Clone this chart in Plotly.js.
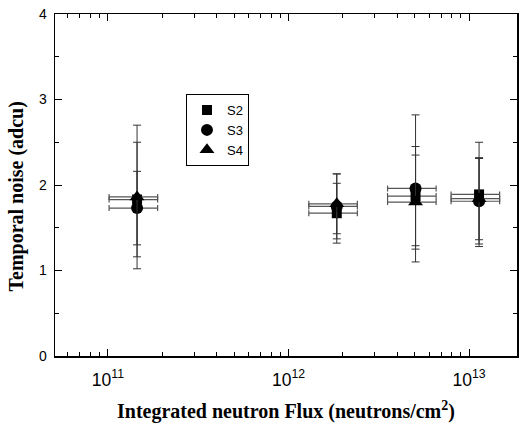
<!DOCTYPE html>
<html>
<head>
<meta charset="utf-8">
<script src="https://cdn.plot.ly/plotly-3.0.1.min.js"></script>
<style>html,body{margin:0;padding:0;background:#fff;}#chart{width:520px;height:428px;}</style>
</head>
<body>
<div id="chart"></div>
<script>
// Integrated neutron flux (neutrons/cm^2)
const flux = [1.45e11, 1.85e12, 5.05e12, 1.135e13];
const fluxErrPct = 30;
// Temporal noise (adcu) and its errors
const s2 = [1.83, 1.67, 1.87, 1.89];
const s2Err = [0.67, 0.35, 0.58, 0.61];
const s3 = [1.73, 1.75, 1.96, 1.81];
const s3Err = [0.43, 0.38, 0.86, 0.50];
const s4 = [1.86, 1.78, 1.80, 1.84];
const s4Err = [0.84, 0.35, 0.55, 0.48];
const names = ['S2', 'S3', 'S4'];
const symbols = ['square', 'circle', 'triangle-up'];
const sizes = [10, 12, 13];

const ys = [s2, s3, s4];
const errs = [s2Err, s3Err, s4Err];

const traces = names.map((n, i) => ({
  type: 'scatter', mode: 'markers', name: n,
  x: flux, y: ys[i],
  marker: {symbol: symbols[i], size: sizes[i], color: '#000'},
  error_y: {type: 'data', array: errs[i], visible: true, color: '#333', thickness: 1, width: 4},
  error_x: {type: 'percent', value: fluxErrPct, visible: true, color: '#555', thickness: 1.2, width: 3}
}));

const titleFont = {family: 'Liberation Serif, Times New Roman', size: 20, color: '#000', weight: 'bold'};

const layout = {
  width: 520, height: 428,
  margin: {l: 55, r: 3, t: 14, b: 72},
  paper_bgcolor: '#fff', plot_bgcolor: '#fff',
  showlegend: true,
  legend: {x: 0.2835, y: 0.766, xanchor: 'left', yanchor: 'top',
    bordercolor: '#000', borderwidth: 1, bgcolor: '#fff',
    font: {family: 'Liberation Sans, Arial', size: 13, color: '#000'}},
  xaxis: {
    type: 'log', range: [10.707, 13.265],
    dtick: 1, exponentformat: 'power', showexponent: 'all',
    ticks: 'inside', ticklen: 7, tickwidth: 1, tickcolor: '#000',
    ticklabelstandoff: 8,
    minor: {ticks: 'inside', ticklen: 4, tickcolor: '#000', dtick: 'D1', showgrid: false},
    showline: true, linecolor: '#000', linewidth: 1.5, mirror: 'ticks',
    showgrid: false, zeroline: false,
    tickfont: {family: 'Liberation Sans, Arial', size: 14, color: '#000'}
  },
  yaxis: {
    range: [0, 4], dtick: 1,
    ticks: 'inside', ticklen: 7, tickwidth: 1, tickcolor: '#000',
    ticklabelstandoff: 4,
    minor: {ticks: 'inside', ticklen: 4, tickcolor: '#000', dtick: 0.5, showgrid: false},
    showline: true, linecolor: '#000', linewidth: 1.5, mirror: 'ticks',
    showgrid: false, zeroline: false,
    tickfont: {family: 'Liberation Sans, Arial', size: 14, color: '#000'}
  },
  annotations: [
    {text: 'Integrated neutron Flux (neutrons/cm<sup>2</sup>)', xref: 'paper', yref: 'paper',
     x: 0.5, y: -0.16, xanchor: 'center', yanchor: 'middle', showarrow: false, font: titleFont},
    {text: 'Temporal noise (adcu)', xref: 'paper', yref: 'paper', textangle: -90,
     x: -0.0833, y: 0.465, xanchor: 'center', yanchor: 'middle', showarrow: false, font: titleFont}
  ]
};

Plotly.newPlot('chart', traces, layout, {displayModeBar: false, staticPlot: true});
</script>
</body>
</html>
